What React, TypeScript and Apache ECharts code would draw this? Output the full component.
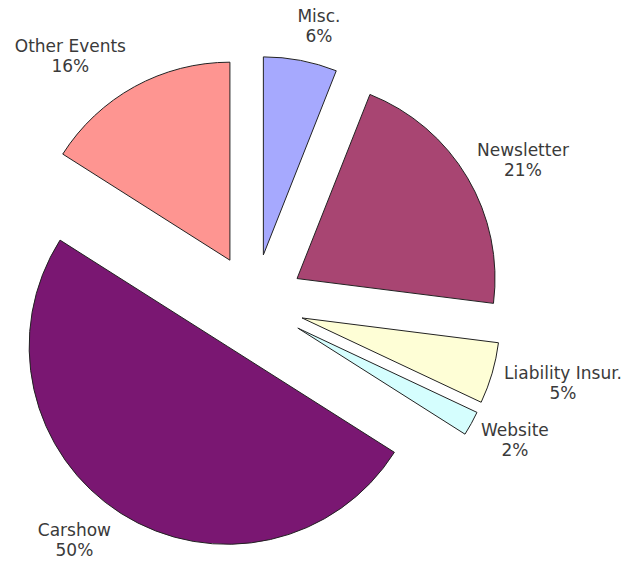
import React, { useEffect, useRef } from 'react';
import * as echarts from 'echarts';

const categories = ['Misc.', 'Newsletter', 'Liability Insur.', 'Website', 'Carshow', 'Other Events'];
const shares = [6, 21, 5, 2, 50, 16];
const colors = ['#A6A9FE', '#A84572', '#FEFED6', '#D5FEFE', '#7A1772', '#FE9591'];
const labelReach = [35, 35, 35, 35, 31, 35];
const labelShift = [-14.6, -25.6, -26.7, -26, -11.5, -13.3];

export default function App() {
  const ref = useRef<HTMLDivElement>(null);
  useEffect(() => {
    document.body.style.margin = '0';
    const chart = echarts.init(ref.current!, null, { renderer: 'svg' });
    const textStyle = { fontFamily: 'DejaVu Sans', fontSize: 17, lineHeight: 20, color: '#3a3a3a' };
    chart.setOption({
      animation: false,
      backgroundColor: '#ffffff',
      series: [
        {
          type: 'pie',
          center: [254, 304],
          radius: 198,
          startAngle: 90,
          clockwise: true,
          selectedMode: 'multiple',
          selectedOffset: 50,
          avoidLabelOverlap: false,
          emphasis: { disabled: true },
          itemStyle: { borderColor: '#222', borderWidth: 1 },
          select: { itemStyle: { borderColor: '#222', borderWidth: 1 } },
          label: {
            show: true,
            position: 'outside',
            ...textStyle,
            formatter: (p: any) => `{t|${p.name}}\n{t|${p.percent}%}`,
            rich: { t: { align: 'center', ...textStyle } },
          },
          labelLine: { show: false, length: 35 },
          data: categories.map((name, i) => ({
            name,
            value: shares[i],
            selected: true,
            itemStyle: { color: colors[i] },
            labelLine: { show: false, length: labelReach[i], length2: labelShift[i] },
          })),
        },
      ],
    });
    return () => chart.dispose();
  }, []);
  return <div ref={ref} style={{ width: 629, height: 561 }} />;
}
